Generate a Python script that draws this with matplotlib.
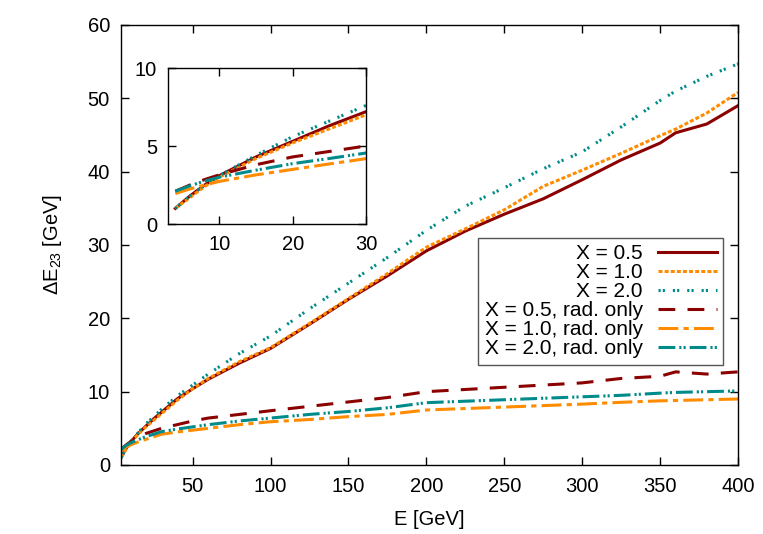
import numpy as np
import matplotlib
matplotlib.use('Agg')
import matplotlib.pyplot as plt

plt.rcParams['font.family'] = ['Liberation Sans', 'DejaVu Sans']
plt.rcParams['mathtext.fontset'] = 'custom'
plt.rcParams['mathtext.rm'] = 'Liberation Sans'
plt.rcParams['mathtext.it'] = 'Liberation Sans'

# beam energy [GeV]
E = [4, 6, 8, 10, 15, 20, 25, 30, 40, 50, 60, 80, 100, 125, 150, 175,
     200, 225, 250, 275, 300, 325, 350, 360, 380, 400]

# Delta E_23 [GeV]
dE_x05 = [1.0, 1.8, 2.5, 3.1, 4.3, 5.3, 6.3, 7.2, 9.0, 10.4, 11.7, 13.9, 15.9,
          19.2, 22.6, 25.8, 29.2, 31.9, 34.2, 36.3, 38.9, 41.6, 43.9, 45.3, 46.5, 49.0]
dE_x10 = [1.0, 1.7, 2.4, 3.0, 4.2, 5.2, 6.1, 7.0, 8.8, 10.4, 11.8, 14.1, 16.0,
          19.3, 22.7, 26.1, 29.7, 32.2, 34.8, 38.0, 40.2, 42.5, 44.9, 45.8, 48.0, 50.8]
dE_x20 = [1.0, 1.8, 2.5, 3.1, 4.4, 5.6, 6.6, 7.6, 9.4, 10.9, 12.4, 15.2, 17.6,
          21.3, 24.8, 28.3, 32.0, 35.3, 37.8, 40.4, 42.7, 46.1, 49.7, 51.0, 53.0, 54.7]
dE_x05_rad = [2.1, 2.5, 2.85, 3.15, 3.8, 4.3, 4.65, 5.0, 5.5, 6.0, 6.4, 6.9, 7.4,
              8.0, 8.6, 9.2, 10.0, 10.3, 10.6, 10.9, 11.2, 11.8, 12.1, 12.7, 12.4, 12.7]
dE_x10_rad = [1.95, 2.25, 2.5, 2.73, 3.15, 3.5, 3.85, 4.19, 4.5, 4.75, 5.0, 5.5, 5.9,
              6.2, 6.6, 6.9, 7.5, 7.7, 7.9, 8.1, 8.3, 8.55, 8.75, 8.8, 8.9, 9.0]
dE_x20_rad = [2.1, 2.45, 2.75, 3.0, 3.45, 3.87, 4.2, 4.55, 4.9, 5.2, 5.5, 6.0, 6.4,
              6.9, 7.3, 7.8, 8.5, 8.7, 8.9, 9.1, 9.3, 9.5, 9.8, 9.9, 10.0, 10.1]

red = '#8b0000'
orange = '#ff8c00'
teal = '#008b8b'
lw = 2.2
fs = 14.5

series = [
    (dE_x05, 'X = 0.5', red, '-'),
    (dE_x10, 'X = 1.0', orange, (0, (1.3, 0.7))),
    (dE_x20, 'X = 2.0', teal, (0, (0.7, 0.7, 0.7, 2.6))),
    (dE_x05_rad, 'X = 0.5, rad. only', red, (0, (5.5, 4.0))),
    (dE_x10_rad, 'X = 1.0, rad. only', orange, (0, (6.5, 1.7, 1.7, 1.7))),
    (dE_x20_rad, 'X = 2.0, rad. only', teal, (0, (5.5, 1.3, 0.7, 0.7, 0.7, 1.3))),
]

fig = plt.figure(figsize=(7.63, 5.34), dpi=100)
ax = fig.add_axes([121/763, 1-465/534, 617/763, 440/534])

for y, lab, c, ls in series:
    ax.plot(E, y, color=c, ls=ls, lw=lw, label=lab)

ax.set_xlim(4, 400)
ax.set_ylim(0, 60)
ax.set_xticks(np.arange(50, 401, 50))
ax.set_yticks(np.arange(0, 61, 10))
ax.tick_params(direction='in', top=True, right=True, length=6, width=1,
               labelsize=fs, pad=9)
ax.tick_params(axis='y', pad=8)
ax.set_xlabel('E [GeV]', fontsize=fs, labelpad=10)
ax.set_ylabel(r'$\Delta$E$_{23}$ [GeV]', fontsize=fs, labelpad=17)

leg = ax.legend(loc='upper right', bbox_to_anchor=(723/763, 1-238/534),
                bbox_transform=fig.transFigure, markerfirst=False, fontsize=15,
                handlelength=2.8, handletextpad=0.75, labelspacing=0.0,
                borderpad=0.3, borderaxespad=0, fancybox=False, framealpha=1)
leg.get_frame().set_edgecolor('#555555')
leg.get_frame().set_linewidth(1)

# inset: low-energy region
ins = fig.add_axes([168/763, 1-224/534, 198/763, 156/534])
for y, lab, c, ls in series:
    ins.plot(E, y, color=c, ls=ls, lw=lw)
ins.set_xlim(3, 30)
ins.set_ylim(0, 10)
ins.set_xticks([10, 20, 30])
ins.set_yticks([0, 5, 10])
ins.tick_params(direction='in', top=True, right=True, length=6, width=1,
                labelsize=fs, pad=8)

for a in (ax, ins):
    for s in a.spines.values():
        s.set_linewidth(1)

fig.savefig('out.png', dpi=100)
